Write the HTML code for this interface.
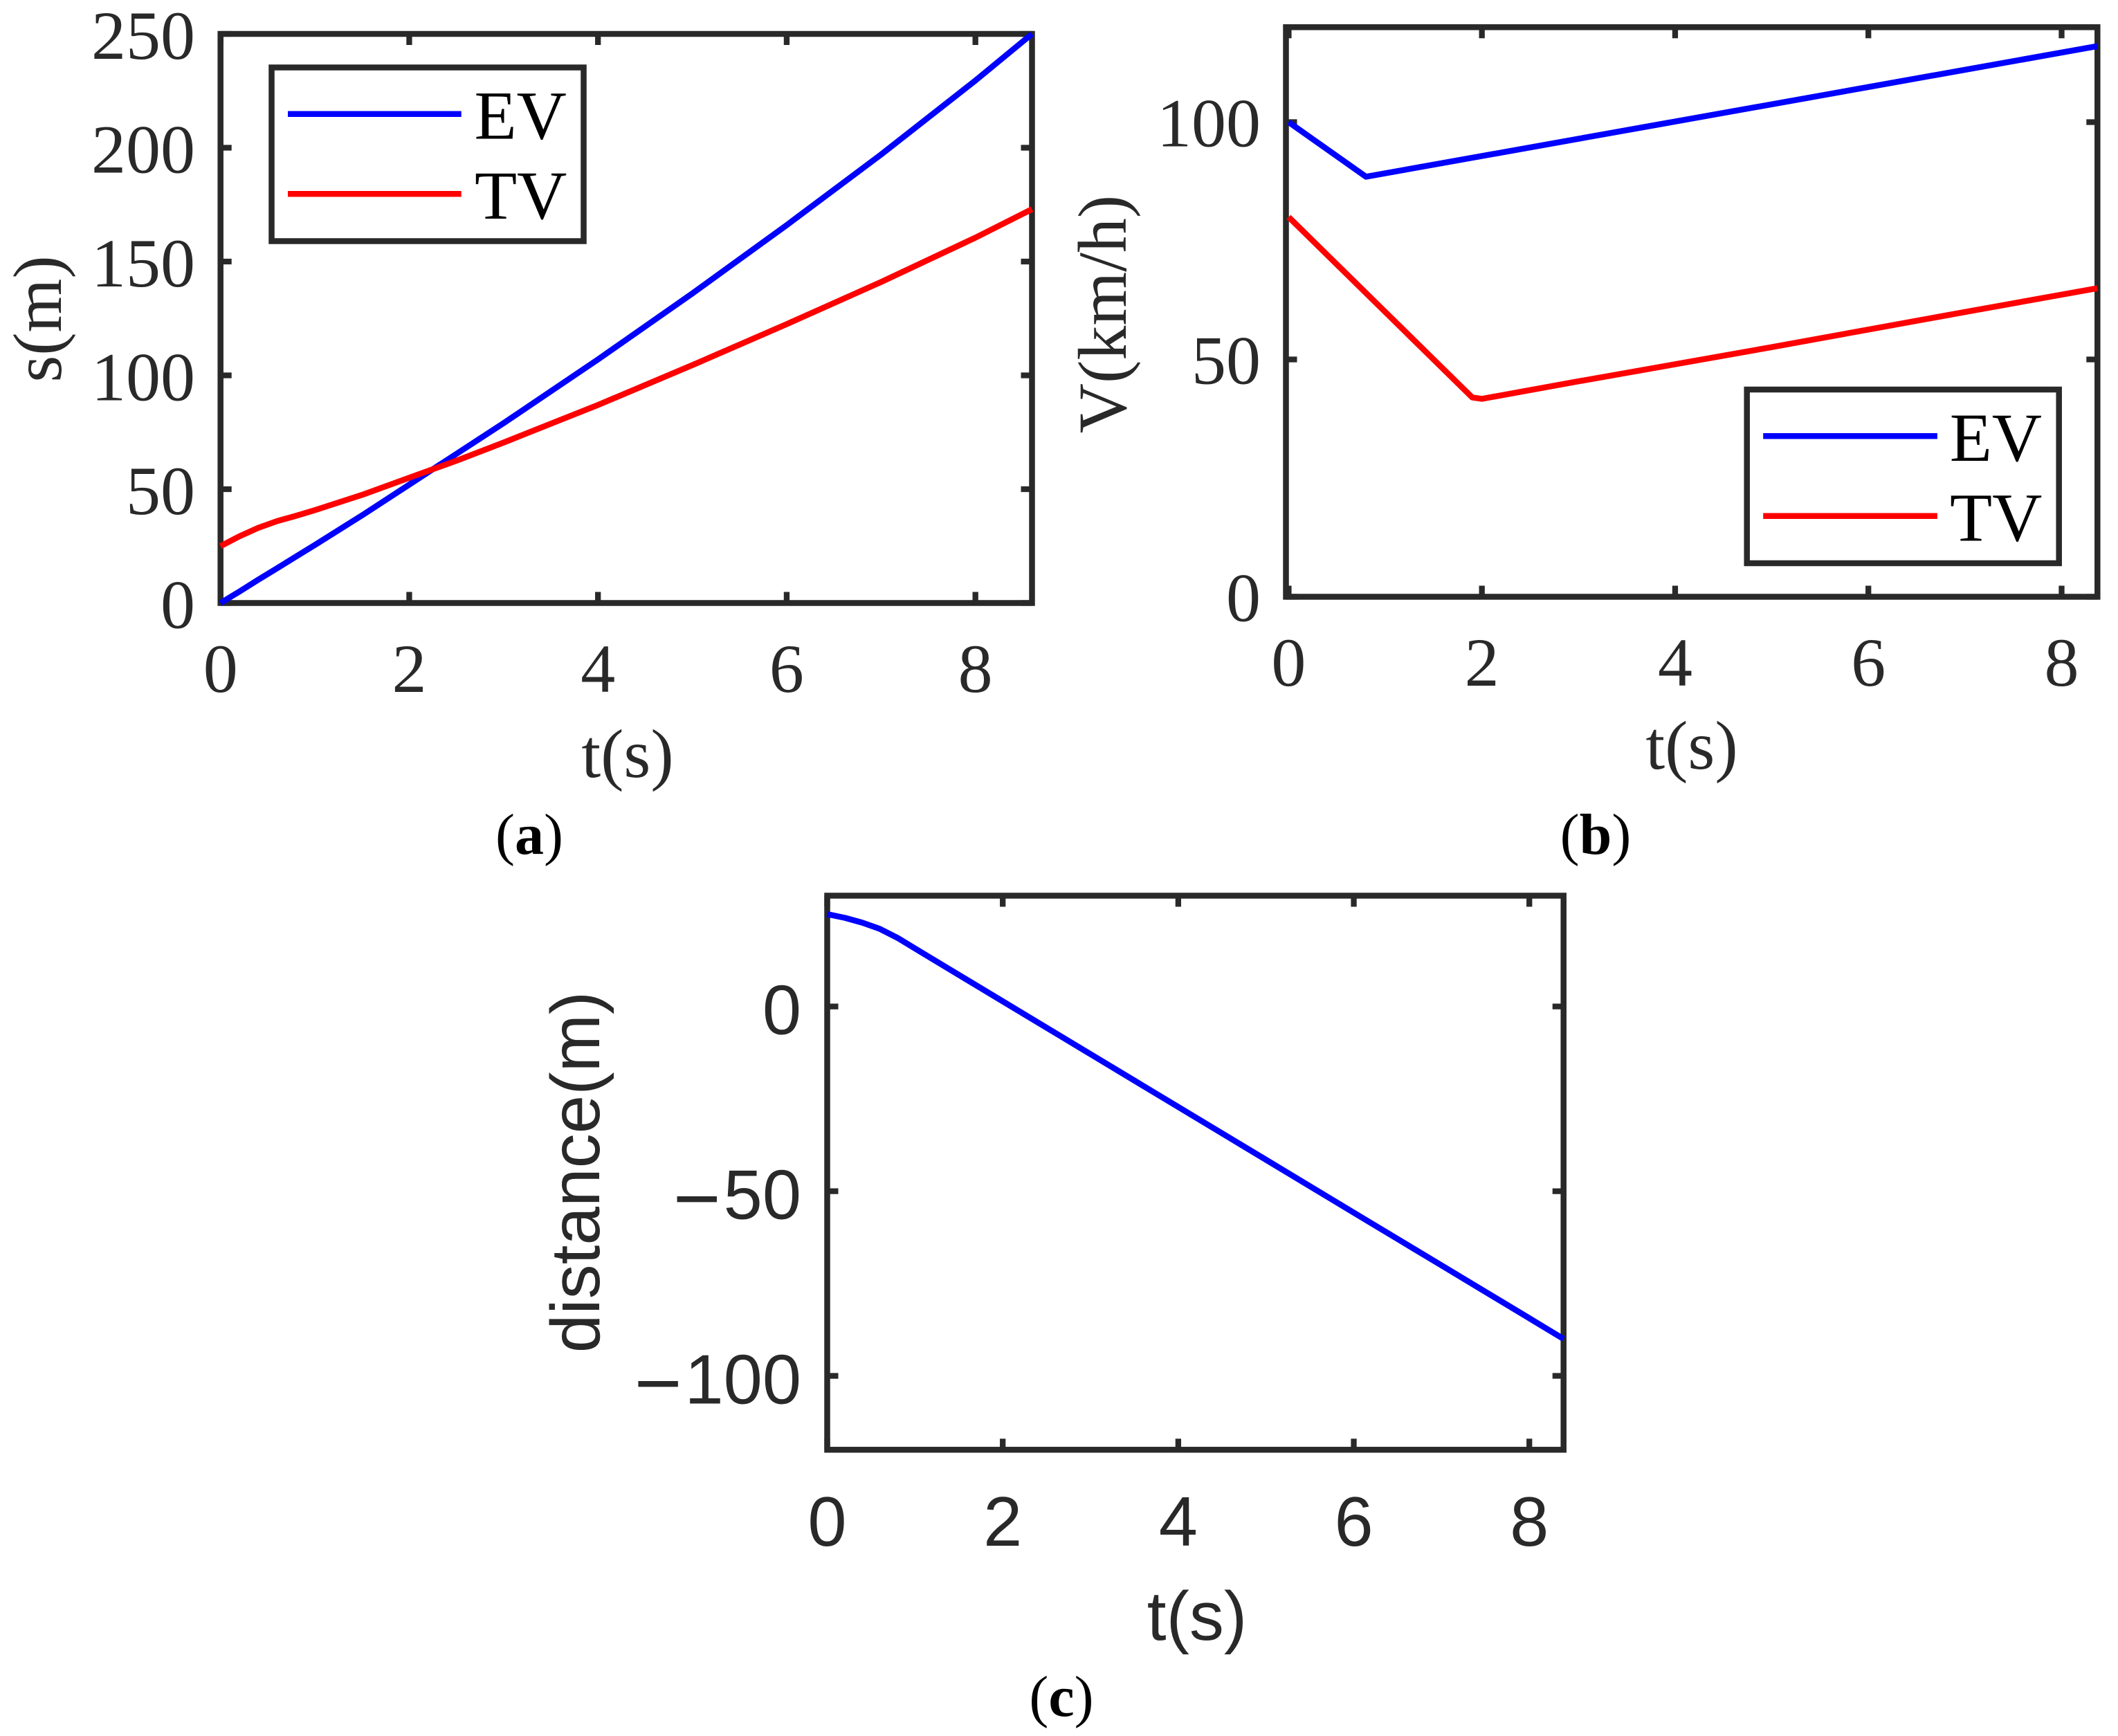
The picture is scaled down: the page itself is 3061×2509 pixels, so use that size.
<!DOCTYPE html>
<html lang="en">
<head>
<meta charset="utf-8">
<title>EV and TV trajectories</title>
<style>
html,body{margin:0;padding:0;background:#fff;}
svg{display:block;}
.serif{font-family:"Liberation Serif",serif;}
.sans{font-family:"Liberation Sans",sans-serif;}
text{fill:#292929;}
</style>
</head>
<body>
<svg id="fig" xmlns="http://www.w3.org/2000/svg" width="3061" height="2509" viewBox="0 0 3061 2509">
  <rect x="0" y="0" width="3061" height="2509" fill="#fff"/>

  <g id="panel-a" class="serif"></g>
  <g id="panel-b" class="serif"></g>
  <g id="panel-c" class="sans"></g>

  <text class="serif" font-size="100" text-anchor="middle" x="907" y="1123">t(s)</text>
  <text class="serif" font-size="100" text-anchor="middle" transform="translate(88,461) rotate(-90)">s(m)</text>
  <text class="serif" font-size="84" text-anchor="middle" x="765" y="1234" style="fill:#000">(<tspan font-weight="bold">a</tspan>)</text>

  <text class="serif" font-size="100" text-anchor="middle" x="2445" y="1111">t(s)</text>
  <text class="serif" font-size="100" text-anchor="middle" transform="translate(1627,454) rotate(-90)">V(km/h)</text>
  <text class="serif" font-size="84" text-anchor="middle" x="2306" y="1234" style="fill:#000">(<tspan font-weight="bold">b</tspan>)</text>

  <text class="sans" font-size="100" text-anchor="middle" x="1730" y="2370">t(s)</text>
  <text class="sans" font-size="100" text-anchor="middle" transform="translate(866,1694) rotate(-90)">distance(m)</text>
  <text class="serif" font-size="84" text-anchor="middle" x="1534" y="2480" style="fill:#000">(<tspan font-weight="bold">c</tspan>)</text>

  <g id="legend-a">
    <rect x="392.5" y="97.5" width="451" height="251" fill="#fff" stroke="#292929" stroke-width="8.5"/>
    <line x1="416" y1="164.7" x2="666.7" y2="164.7" stroke="#0000ff" stroke-width="8.5"/>
    <text class="serif" font-size="100" x="685.5" y="200.7" style="fill:#000">EV</text>
    <line x1="416" y1="280.3" x2="666.7" y2="280.3" stroke="#ff0000" stroke-width="8.5"/>
    <text class="serif" font-size="100" x="686" y="316" style="fill:#000">TV</text>
  </g>
  <g id="legend-b">
    <rect x="2524.7" y="563" width="451" height="251" fill="#fff" stroke="#292929" stroke-width="8.5"/>
    <line x1="2548.2" y1="630.2" x2="2799.9" y2="630.2" stroke="#0000ff" stroke-width="8.5"/>
    <text class="serif" font-size="100" x="2817.7" y="666.2" style="fill:#000">EV</text>
    <line x1="2548.2" y1="745.8" x2="2799.9" y2="745.8" stroke="#ff0000" stroke-width="8.5"/>
    <text class="serif" font-size="100" x="2818" y="781.5" style="fill:#000">TV</text>
  </g>
</svg>
<script>
// Panel (a) data
const aXTicks = [0, 2, 4, 6, 8];
const aYTicks = [0, 50, 100, 150, 200, 250];
const aTime = [0, 0.2, 0.4, 0.6, 0.8, 1, 1.5, 2, 2.5, 3, 4, 5, 6, 7, 8, 8.6];
const aEV = [0, 5, 10.2, 15.3, 20.4, 25.5, 38.5, 52, 65.5, 79, 107, 136, 166, 197, 229.5, 250];
const aTV = [25, 29.3, 33, 36, 38.3, 40.8, 47.5, 55, 62.5, 70.5, 87, 104.5, 122.5, 141, 160.5, 173];

// Panel (b) data
const bXTicks = [0, 2, 4, 6, 8];
const bYTicks = [0, 50, 100];
const bTimeEV = [0, 0.8, 8.37];
const bEV = [100, 88.5, 116];
const bTimeTV = [0, 1.9, 2, 3, 4, 5, 6, 7, 8.37];
const bTV = [80, 42, 41.7, 45.4, 49, 52.6, 56.3, 60, 65];

// Panel (c) data
const cXTicks = [0, 2, 4, 6, 8];
const cYTicks = [0, -50, -100];
const cTime = [0, 0.2, 0.4, 0.6, 0.8, 1, 2, 3, 4, 5, 6, 7, 8, 8.39];
const cDist = [25, 24, 22.7, 21, 18.6, 15.7, 1.4, -12.9, -27.2, -41.5, -55.8, -70.1, -84.4, -90];

const SVG_NS = 'http://www.w3.org/2000/svg';

function makeAxes(box, xDomain, yDomain) {
  return {
    box: box,
    x: function (v) { return box.left + (v - xDomain[0]) / (xDomain[1] - xDomain[0]) * (box.right - box.left); },
    y: function (v) { return box.bottom - (v - yDomain[0]) / (yDomain[1] - yDomain[0]) * (box.bottom - box.top); }
  };
}

function drawSeries(root, axes, xs, ys, color, name) {
  const pts = xs.map(function (t, i) { return axes.x(t).toFixed(1) + ',' + axes.y(ys[i]).toFixed(1); }).join(' ');
  const line = document.createElementNS(SVG_NS, 'polyline');
  
  
  line.setAttribute('points', pts);
  line.setAttribute('fill', 'none');
  line.setAttribute('stroke', color);
  line.setAttribute('stroke-width', '8.5');
  line.setAttribute('stroke-linejoin', 'round');
  root.appendChild(line);
}

function drawFrame(root, axes, name) {
  const b = axes.box;
  const frame = document.createElementNS(SVG_NS, 'rect');
  
  
  frame.setAttribute('x', b.left);
  frame.setAttribute('y', b.top);
  frame.setAttribute('width', b.right - b.left);
  frame.setAttribute('height', b.bottom - b.top);
  frame.setAttribute('fill', 'none');
  frame.setAttribute('stroke', '#292929');
  frame.setAttribute('stroke-width', '8.5');
  root.appendChild(frame);
}

function drawTick(root, x1, y1, x2, y2, name) {
  const tick = document.createElementNS(SVG_NS, 'line');
  
  
  tick.setAttribute('x1', x1);
  tick.setAttribute('y1', y1);
  tick.setAttribute('x2', x2);
  tick.setAttribute('y2', y2);
  tick.setAttribute('stroke', '#292929');
  tick.setAttribute('stroke-width', '8.3');
  root.appendChild(tick);
}

function drawLabel(root, value, x, y, anchor, size, name) {
  const label = document.createElementNS(SVG_NS, 'text');
  
  
  label.setAttribute('x', x);
  label.setAttribute('y', y);
  label.setAttribute('text-anchor', anchor);
  label.setAttribute('font-size', size);
  if (value < 0) {
    const sign = document.createElementNS(SVG_NS, 'tspan');
    sign.setAttribute('font-size', size * 1.17);
    sign.setAttribute('dy', '11');
    sign.textContent = '\u2212';
    label.appendChild(sign);
    const digits = document.createElementNS(SVG_NS, 'tspan');
    digits.setAttribute('dy', '-11');
    digits.setAttribute('dx', '4');
    digits.textContent = String(Math.abs(value));
    label.appendChild(digits);
  } else {
    label.textContent = String(value);
  }
  root.appendChild(label);
}

function drawTicks(root, axes, xTicks, yTicks, opts) {
  const b = axes.box;
  const len = 16;
  xTicks.forEach(function (v) {
    const px = axes.x(v);
    drawTick(root, px, b.bottom, px, b.bottom - len, 'x-tick');
    drawTick(root, px, b.top, px, b.top + len, 'x-tick-top');
    drawLabel(root, v, px, opts.xBase, 'middle', opts.size, 'x-tick-label');
  });
  yTicks.forEach(function (v) {
    const py = axes.y(v);
    drawTick(root, b.left, py, b.left + len, py, 'y-tick');
    drawTick(root, b.right, py, b.right - len, py, 'y-tick-right');
    drawLabel(root, v, opts.yRight, py + opts.yShift, 'end', opts.size, 'y-tick-label');
  });
}

const axesA = makeAxes({ left: 318.7, right: 1491.5, top: 49, bottom: 871.5 }, [0, 8.6], [0, 250]);
const axesB = makeAxes({ left: 1858.5, right: 3031.3, top: 39.3, bottom: 862.5 }, [-0.028, 8.371], [0, 120]);
const axesC = makeAxes({ left: 1195.5, right: 2259.7, top: 1294.5, bottom: 2095.3 }, [0, 8.39], [-120, 30]);

const rootA = document.getElementById('panel-a');
const rootB = document.getElementById('panel-b');
const rootC = document.getElementById('panel-c');

drawTicks(rootA, axesA, aXTicks, aYTicks, { xBase: 1000, yRight: 282, yShift: 36, size: 100 });
drawFrame(rootA, axesA, 'panel-a-frame');
drawSeries(rootA, axesA, aTime, aEV, '#0000ff', 'panel-a-ev-line');
drawSeries(rootA, axesA, aTime, aTV, '#ff0000', 'panel-a-tv-line');

drawTicks(rootB, axesB, bXTicks, bYTicks, { xBase: 991, yRight: 1822, yShift: 35, size: 100 });
drawFrame(rootB, axesB, 'panel-b-frame');
drawSeries(rootB, axesB, bTimeEV, bEV, '#0000ff', 'panel-b-ev-line');
drawSeries(rootB, axesB, bTimeTV, bTV, '#ff0000', 'panel-b-tv-line');

drawTicks(rootC, axesC, cXTicks, cYTicks, { xBase: 2234, yRight: 1158, yShift: 40, size: 101 });
drawFrame(rootC, axesC, 'panel-c-frame');
drawSeries(rootC, axesC, cTime, cDist, '#0000ff', 'panel-c-distance-line');
</script>
</body>
</html>
